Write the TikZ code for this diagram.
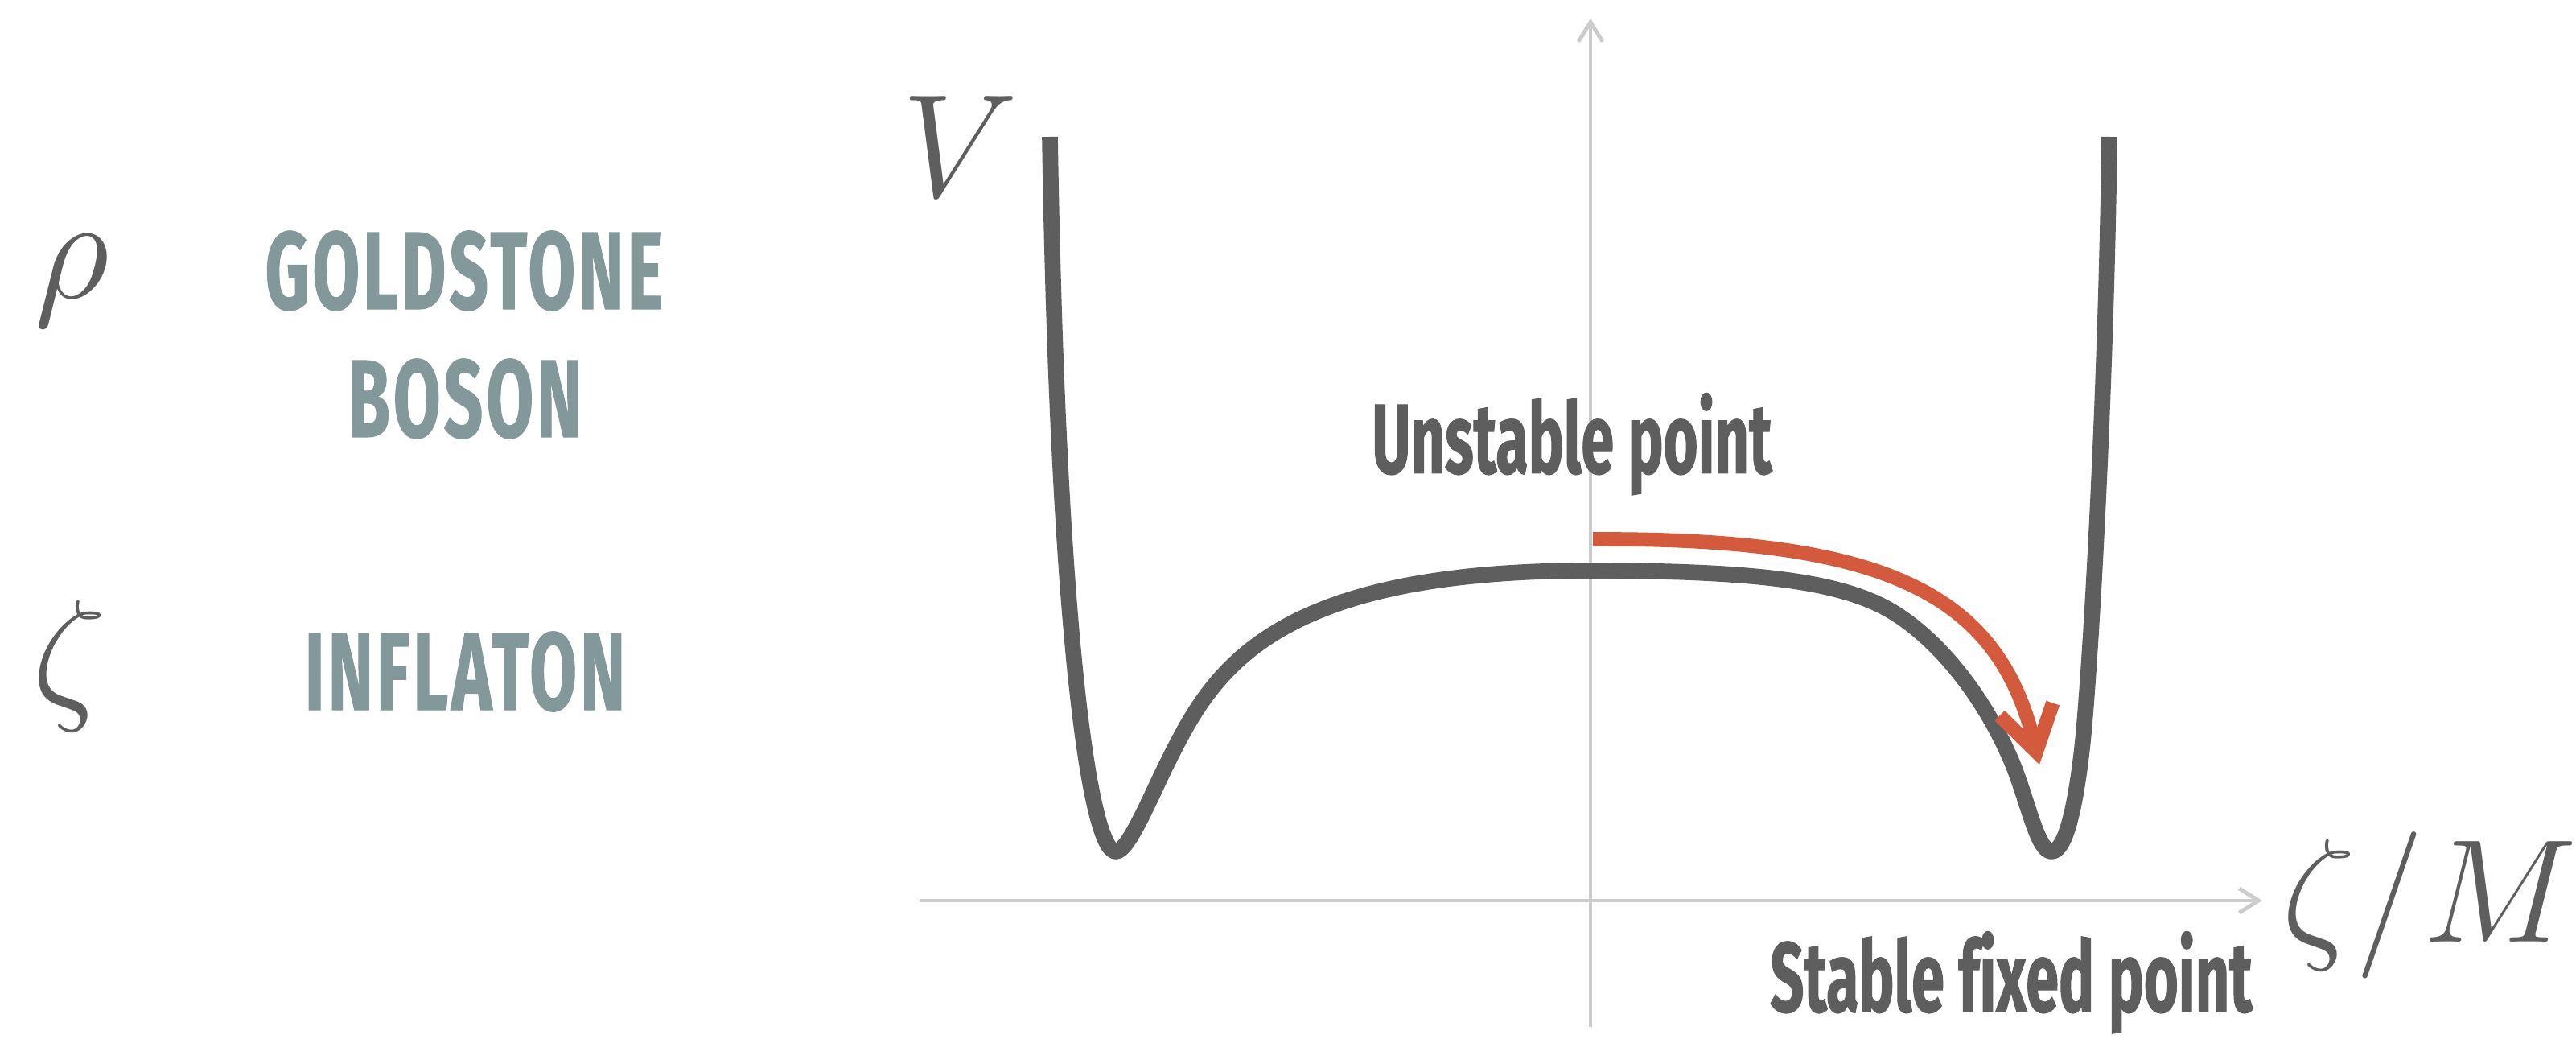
\documentclass[tikz,border=0pt]{standalone}
\usepackage{fix-cm}
\usepackage{fontspec}
\newfontfamily\fieldfont{Fira Sans}[FakeStretch=0.62, FakeBold=0.8, LetterSpace=3, Ligatures=CommonOff]
\newfontfamily\notefont{Fira Sans}[FakeStretch=0.6, FakeBold=0.8, Ligatures=CommonOff]
\usetikzlibrary{arrows.meta, positioning}
\definecolor{cgrey}{HTML}{5E5E5E}
\definecolor{caxis}{HTML}{CCCCCC}
\definecolor{cteal}{HTML}{82989B}
\definecolor{cred}{HTML}{D35A3D}
\tikzset{
  field/.style={font=\fieldfont\bfseries\fontsize{39}{45}\selectfont, text=cteal, inner sep=0pt, anchor=base},
  sym/.style={font=\fontsize{52}{52}\selectfont, text=cgrey, inner sep=0pt, anchor=base},
  note/.style={font=\notefont\bfseries\fontsize{35}{35}\selectfont, text=cgrey, inner sep=0pt, anchor=base},
  axis/.style={draw=caxis, line width=1.4pt, -{Straight Barb[length=2.4mm, width=3mm]}},
  potential/.style={draw=cgrey, line width=5.6pt, line join=round},
  roll/.style={draw=cred, line width=5pt, -{Straight Barb[length=5.4mm, width=6.8mm]}},
}

\begin{document}
\begin{tikzpicture}
  \useasboundingbox (0,0) rectangle (32.02,12.90);
  % the two fields
  \node[sym] (rho) at (0.90,9.19) {$\rho$};
  \node[sym] (zeta) at (0.86,4.17) {$\zeta$};
  \node[field] (goldstone) at (5.77,9.06) {GOLDSTONE};
  \node[field] (boson) at (5.78,7.47) {BOSON};
  \node[field] (inflaton) at (5.78,4.08) {INFLATON};
  % axes
  \coordinate (xstart) at (11.43,1.71);
  \coordinate (xend) at (28.12,1.71);
  \coordinate (ystart) at (19.77,0.14);
  \coordinate (yend) at (19.77,12.67);
  \draw[axis] (xstart) -- (xend);
  \draw[axis] (ystart) -- (yend);
  \node[sym] (vlabel) at (11.94,10.45) {$V$};
  \node[sym] (xlabel) at (30.20,1.20) {$\zeta/M$};
  % the potential
  \draw[potential] (13.05,11.20) .. controls (13.15,5.00) and (13.55,2.32) .. (13.87,2.32)
    .. controls (14.02,2.32) and (14.28,2.95) .. (14.50,3.40)
    .. controls (15.05,4.50) and (15.70,5.81) .. (19.77,5.81)
    .. controls (22.00,5.81) and (23.00,5.65) .. (23.60,5.25)
    .. controls (24.20,4.85) and (24.70,4.15) .. (25.00,3.45)
    .. controls (25.20,2.98) and (25.32,2.32) .. (25.50,2.32)
    .. controls (25.68,2.32) and (25.80,2.90) .. (25.88,3.60)
    .. controls (25.98,4.50) and (26.18,8.00) .. (26.22,11.20);
  % rolling down
  \coordinate (crest) at (19.80,6.20);
  \coordinate (valley) at (25.35,3.40);
  \draw[roll] (crest) .. controls (23.5,6.22) and (24.85,5.5) .. (valley);
  \node[note] (unstable) at (19.54,7.02) {Unstable point};
  \node[note] (stable) at (25.00,0.33) {Stable fixed point};
\end{tikzpicture}
\end{document}
